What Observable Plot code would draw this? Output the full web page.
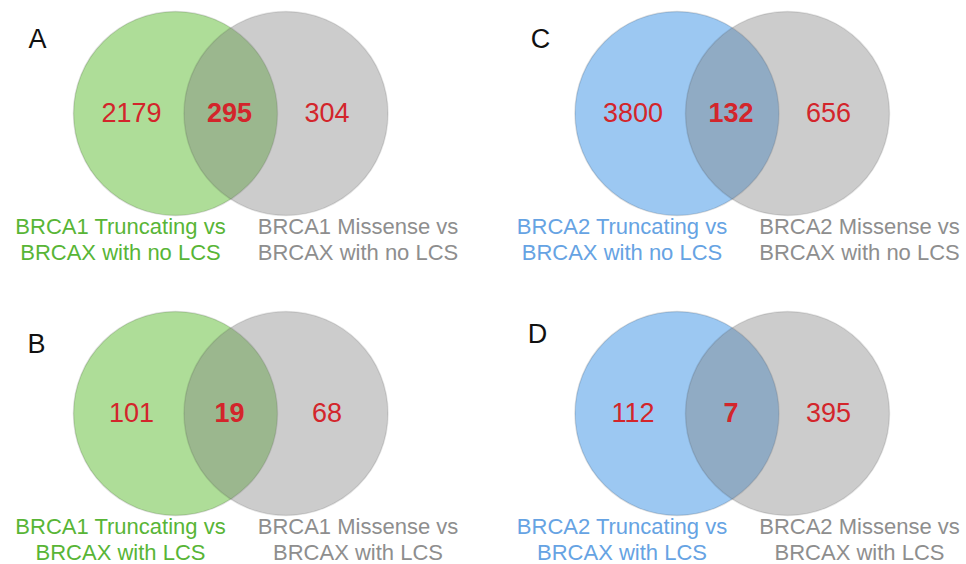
<!DOCTYPE html>
<html>
<head>
<meta charset="utf-8">
<script src="https://cdn.jsdelivr.net/npm/d3@7"></script>
<script src="https://cdn.jsdelivr.net/npm/@observablehq/plot@0.6"></script>
<style>
  html, body { margin: 0; padding: 0; background: #ffffff; }
  #chart svg { display: block; }
</style>
</head>
<body>
<div id="chart"></div>
<script>
// ---- data ----
const panels = ["A", "B", "C", "D"];
const genes = ["BRCA1", "BRCA1", "BRCA2", "BRCA2"];
const lcsGroups = ["no LCS", "with LCS", "no LCS", "with LCS"];
const truncatingOnly = [2179, 101, 3800, 112];
const shared = [295, 19, 132, 7];
const missenseOnly = [304, 68, 656, 395];
const truncatingLabels = [
  "BRCA1 Truncating vs\nBRCAX with no LCS",
  "BRCA1 Truncating vs\nBRCAX with LCS",
  "BRCA2 Truncating vs\nBRCAX with no LCS",
  "BRCA2 Truncating vs\nBRCAX with LCS"
];
const missenseLabels = [
  "BRCA1 Missense vs\nBRCAX with no LCS",
  "BRCA1 Missense vs\nBRCAX with LCS",
  "BRCA2 Missense vs\nBRCAX with no LCS",
  "BRCA2 Missense vs\nBRCAX with LCS"
];

// ---- layout (grid of panels, offsets inside a panel) ----
const colOf = {BRCA1: 0, BRCA2: 501.5};
const rowOf = {"no LCS": 0, "with LCS": 300};
const letterOffset = {A: [37, 47], B: [36, 52], C: [38.5, 47], D: [35.5, 42]};
const circleFill = {BRCA1: "#aedd98", BRCA2: "#9cc8f2"};
const labelFill = {BRCA1: "#58b536", BRCA2: "#66a3e3"};
const R = 102;

const table = panels.map((p, i) => ({
  panel: p, gene: genes[i], lcs: lcsGroups[i],
  left: truncatingOnly[i], both: shared[i], right: missenseOnly[i],
  leftLabel: truncatingLabels[i], rightLabel: missenseLabels[i]
}));
const px = (d, dx) => colOf[d.gene] + dx;
const py = (d, dy) => rowOf[d.lcs] + dy;

const font = "'Liberation Sans', Arial, Helvetica, sans-serif";
const red = "#d3252b";

const chart = Plot.plot({
  width: 966,
  height: 564,
  margin: 0,
  x: {domain: [0, 966], range: [0, 966], axis: null},
  y: {domain: [0, 564], range: [0, 564], axis: null},
  color: {type: "identity"},
  style: {background: "#ffffff", fontFamily: font},
  marks: [
    Plot.dot(table, {
      x: d => px(d, 175), y: d => py(d, 113), r: R,
      fill: d => circleFill[d.gene], fillOpacity: 1,
      stroke: "#000000", strokeOpacity: 0.13, strokeWidth: 1.5
    }),
    Plot.dot(table, {
      x: d => px(d, 285.5), y: d => py(d, 113), r: R,
      fill: "#808080", fillOpacity: 0.4,
      stroke: "#000000", strokeOpacity: 0.1, strokeWidth: 1.5
    }),
    Plot.text(table, {
      x: d => px(d, 131), y: d => py(d, 121), text: d => String(d.left),
      fill: red, fontSize: 27, lineAnchor: "bottom", fontFamily: font
    }),
    Plot.text(table, {
      x: d => px(d, 229), y: d => py(d, 121), text: d => String(d.both),
      fill: red, fontSize: 27, fontWeight: "bold", lineAnchor: "bottom", fontFamily: font
    }),
    Plot.text(table, {
      x: d => px(d, 326.5), y: d => py(d, 121), text: d => String(d.right),
      fill: red, fontSize: 27, lineAnchor: "bottom", fontFamily: font
    }),
    Plot.text(table, {
      x: d => px(d, 120), y: d => py(d, 259), text: "leftLabel",
      fill: d => labelFill[d.gene], fontSize: 22, lineHeight: 26 / 22,
      lineAnchor: "bottom", fontFamily: font
    }),
    Plot.text(table, {
      x: d => px(d, 357.5), y: d => py(d, 259), text: "rightLabel",
      fill: "#8e8e8e", fontSize: 22, lineHeight: 26 / 22,
      lineAnchor: "bottom", fontFamily: font
    }),
    Plot.text(table, {
      x: d => px(d, letterOffset[d.panel][0]), y: d => py(d, letterOffset[d.panel][1]),
      text: "panel", fill: "#111111", fontSize: 27, lineAnchor: "bottom", fontFamily: font
    })
  ]
});
document.getElementById("chart").appendChild(chart);
</script>
</body>
</html>
